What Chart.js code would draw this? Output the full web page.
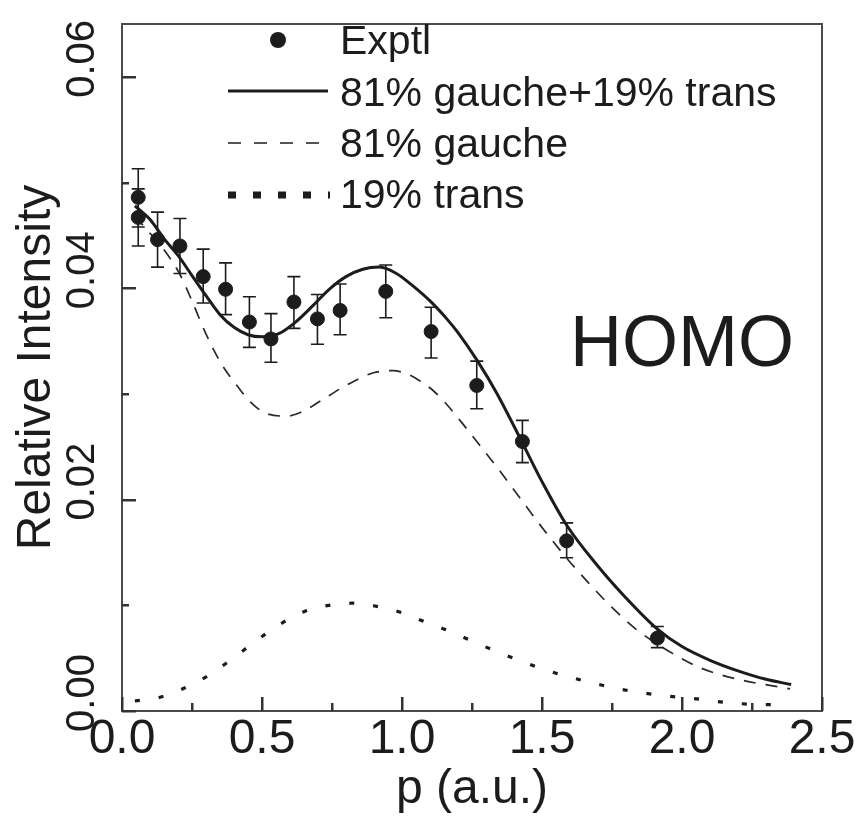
<!DOCTYPE html>
<html>
<head>
<meta charset="utf-8">
<script src="https://cdn.jsdelivr.net/npm/chart.js@4.4.1/dist/chart.umd.min.js"></script>
<style>
    html, body { margin: 0; padding: 0; background: #fff; }
    #wrap { width: 865px; height: 822px; position: relative; }
</style>
</head>
<body>
<div id="wrap"><canvas id="homoChart"></canvas></div>
<script>
// Experimental points (momentum p in a.u., relative intensity, error bar ends)
const exptP  = [0.058, 0.058, 0.127, 0.207, 0.290, 0.370, 0.455, 0.532, 0.614, 0.698, 0.779, 0.942, 1.104, 1.267, 1.430, 1.588, 1.912];
const exptI  = [0.0486, 0.0467, 0.0446, 0.0440, 0.0411, 0.0399, 0.0368, 0.0352, 0.0387, 0.0371, 0.0379, 0.0397, 0.0359, 0.0308, 0.0255, 0.0161, 0.0069];
const exptHi = [0.0513, 0.0494, 0.0472, 0.0466, 0.0437, 0.0424, 0.0392, 0.0376, 0.0411, 0.0394, 0.0404, 0.0422, 0.0382, 0.0331, 0.0275, 0.0178, 0.0080];
const exptLo = [0.0458, 0.0440, 0.0420, 0.0414, 0.0386, 0.0375, 0.0344, 0.0330, 0.0362, 0.0347, 0.0356, 0.0372, 0.0334, 0.0286, 0.0235, 0.0145, 0.0060];

// 81% gauche + 19% trans (solid)
const totalP = [0.046, 0.10, 0.15, 0.20, 0.25, 0.30, 0.35, 0.40, 0.45, 0.50, 0.56, 0.62, 0.68, 0.74, 0.80, 0.86, 0.92, 0.98, 1.04, 1.10, 1.16, 1.20, 1.27, 1.34, 1.42, 1.50, 1.59, 1.70, 1.80, 1.91, 2.00, 2.10, 2.20, 2.30, 2.39];
const totalI = [0.0478, 0.0465, 0.0447, 0.0431, 0.0412, 0.0393, 0.0375, 0.0363, 0.0356, 0.0354, 0.0357, 0.0368, 0.0383, 0.0399, 0.0411, 0.0418, 0.0420, 0.0414, 0.0402, 0.0388, 0.0371, 0.0358, 0.0331, 0.0300, 0.0259, 0.0217, 0.0175, 0.0137, 0.0107, 0.0078, 0.0061, 0.0048, 0.0038, 0.0030, 0.0025];

// 81% gauche (dashed)
const gaucheP = [0.046, 0.10, 0.154, 0.207, 0.25, 0.296, 0.356, 0.416, 0.46, 0.511, 0.588, 0.65, 0.707, 0.80, 0.898, 0.969, 1.017, 1.06, 1.112, 1.16, 1.207, 1.279, 1.344, 1.42, 1.505, 1.587, 1.667, 1.75, 1.833, 1.95, 2.064, 2.20, 2.386];
const gaucheI = [0.0468, 0.0452, 0.0435, 0.0413, 0.0388, 0.0359, 0.0328, 0.0306, 0.0292, 0.0282, 0.0279, 0.0284, 0.0293, 0.0308, 0.0320, 0.0322, 0.0319, 0.0313, 0.0303, 0.0290, 0.0275, 0.0251, 0.0229, 0.0202, 0.0172, 0.0145, 0.0121, 0.0098, 0.0078, 0.0057, 0.0041, 0.0030, 0.0021];

// 19% trans (dotted)
const transP = [0.046, 0.136, 0.217, 0.305, 0.392, 0.477, 0.564, 0.65, 0.739, 0.823, 0.91, 0.999, 1.085, 1.166, 1.26, 1.35, 1.427, 1.511, 1.60, 1.689, 1.773, 1.863, 1.951, 2.035, 2.124, 2.207, 2.296, 2.38];
const transI = [0.00095, 0.0013, 0.0021, 0.0033, 0.0049, 0.0066, 0.0082, 0.0094, 0.0100, 0.0102, 0.0099, 0.0093, 0.0084, 0.0076, 0.0065, 0.0055, 0.0047, 0.0039, 0.0032, 0.0026, 0.0021, 0.0017, 0.0014, 0.0012, 0.0009, 0.0007, 0.0006, 0.0006];

// axis tick positions (inward marks); every other one carries a label
const xTicks = [0, 0.25, 0.5, 0.75, 1.0, 1.25, 1.5, 1.75, 2.0, 2.25, 2.5];
const yTicks = [0, 0.01, 0.02, 0.03, 0.04, 0.05, 0.06];

const legendLabels = ['Exptl', '81% gauche+19% trans', '81% gauche', '19% trans'];
const panelLabel = 'HOMO';

const ink = '#1c1c1c';
const FONT = "'Liberation Sans', Arial, Helvetica, sans-serif";

const toPoints = (xs, ys) => xs.map((x, i) => ({ x: x, y: ys[i] }));

// error bars, inward ticks, frame, legend and the HOMO label
const overlayPlugin = {
    id: 'overlay',
    beforeDatasetsDraw(chart) {
        const ctx = chart.ctx;
        const xs = chart.scales.x, ys = chart.scales.y;
        ctx.save();
        ctx.strokeStyle = ink;
        ctx.lineWidth = 1.6;
        exptP.forEach((p, i) => {
            const px = xs.getPixelForValue(p);
            const top = ys.getPixelForValue(exptHi[i]);
            const bot = ys.getPixelForValue(exptLo[i]);
            ctx.beginPath();
            ctx.moveTo(px, top); ctx.lineTo(px, bot);
            ctx.moveTo(px - 6.5, top); ctx.lineTo(px + 6.5, top);
            ctx.moveTo(px - 6.5, bot); ctx.lineTo(px + 6.5, bot);
            ctx.stroke();
        });
        ctx.restore();
    },
    afterDraw(chart) {
        const ctx = chart.ctx;
        const area = chart.chartArea;
        const xs = chart.scales.x, ys = chart.scales.y;
        ctx.save();
        ctx.setLineDash([]);

        // frame
        ctx.strokeStyle = '#4a4a4a';
        ctx.lineWidth = 2;
        ctx.strokeRect(area.left, area.top, area.right - area.left, area.bottom - area.top);

        // inward tick marks, long where a label sits
        ctx.fillStyle = '#333';
        xTicks.forEach((v, k) => {
            const px = Math.round(xs.getPixelForValue(v));
            const len = k % 2 === 0 ? 14 : 8;
            ctx.fillRect(px - 1, area.bottom - len, 2.5, len);
        });
        yTicks.forEach((v, k) => {
            const py = Math.round(ys.getPixelForValue(v));
            const len = k % 2 === 0 ? 14 : 7;
            ctx.fillRect(area.left, py - 1, len, 2.5);
        });

        // legend
        const lx0 = 228, lx1 = 328, tx = 340;
        ctx.fillStyle = ink;
        ctx.strokeStyle = ink;
        ctx.font = '41px ' + FONT;
        ctx.textBaseline = 'alphabetic';
        ctx.textAlign = 'left';

        ctx.beginPath();
        ctx.arc(278, 40, 8, 0, Math.PI * 2);
        ctx.fill();
        ctx.fillText(legendLabels[0], tx, 54);

        ctx.lineWidth = 3.2;
        ctx.beginPath(); ctx.moveTo(lx0, 91); ctx.lineTo(lx1, 91); ctx.stroke();
        ctx.fillText(legendLabels[1], tx, 106);

        ctx.lineWidth = 1.4;
        ctx.setLineDash([13, 13]);
        ctx.beginPath(); ctx.moveTo(lx0, 143); ctx.lineTo(lx1, 143); ctx.stroke();
        ctx.fillText(legendLabels[2], tx, 157);

        ctx.lineWidth = 7;
        ctx.setLineDash([8, 17]);
        ctx.beginPath(); ctx.moveTo(lx0, 195); ctx.lineTo(lx1 + 2, 195); ctx.stroke();
        ctx.setLineDash([]);
        ctx.fillText(legendLabels[3], tx, 208);

        // panel label
        ctx.font = '72px ' + FONT;
        ctx.fillText(panelLabel, xs.getPixelForValue(1.6), ys.getPixelForValue(0.0326));

        ctx.restore();
    }
};

const ctx = document.getElementById('homoChart').getContext('2d');

new Chart(ctx, {
    type: 'scatter',
    data: {
        datasets: [
            {
                label: legendLabels[0],
                data: toPoints(exptP, exptI),
                showLine: false,
                pointRadius: 7,
                pointBackgroundColor: ink,
                pointBorderColor: ink,
                pointBorderWidth: 1
            },
            {
                label: legendLabels[1],
                data: toPoints(totalP, totalI),
                showLine: true,
                borderColor: ink,
                borderWidth: 3,
                pointRadius: 0,
                cubicInterpolationMode: 'monotone'
            },
            {
                label: legendLabels[2],
                data: toPoints(gaucheP, gaucheI),
                showLine: true,
                borderColor: '#2a2a2a',
                borderWidth: 1.7,
                borderDash: [12, 10],
                pointRadius: 0,
                cubicInterpolationMode: 'monotone'
            },
            {
                label: legendLabels[3],
                data: toPoints(transP, transI),
                showLine: true,
                borderColor: ink,
                borderWidth: 3.2,
                borderDash: [5, 19],
                pointRadius: 0,
                cubicInterpolationMode: 'monotone'
            }
        ]
    },
    options: {
        responsive: true,
        maintainAspectRatio: false,
        animation: false,
        layout: {
            padding: { top: 11, right: 43, left: 0, bottom: 0 }
        },
        plugins: {
            legend: { display: false },
            tooltip: { enabled: false }
        },
        scales: {
            x: {
                type: 'linear',
                min: 0,
                max: 2.5,
                grid: { display: false, drawTicks: false },
                border: { display: false },
                ticks: {
                    stepSize: 0.25,
                    padding: 0,
                    color: ink,
                    font: { family: FONT, size: 48 },
                    maxRotation: 0,
                    callback: (v) => Math.abs(v * 2 - Math.round(v * 2)) < 1e-6 ? v.toFixed(1) : ''
                },
                title: {
                    display: true,
                    text: 'p (a.u.)',
                    color: ink,
                    font: { family: FONT, size: 48 },
                    padding: { top: 0, bottom: 3 }
                },
                afterFit: (scale) => { scale.height = 111; }
            },
            y: {
                type: 'linear',
                min: 0,
                max: 0.065,
                grid: { display: false, drawTicks: false },
                border: { display: false },
                ticks: {
                    stepSize: 0.01,
                    includeBounds: false,
                    padding: 0,
                    minRotation: 90,
                    maxRotation: 90,
                    crossAlign: 'center',
                    labelOffset: -18,
                    color: ink,
                    font: { family: FONT, size: 40 },
                    callback: (v) => Math.round(v * 100) % 2 === 0 ? v.toFixed(2) : ''
                },
                title: {
                    display: true,
                    text: 'Relative Intensity',
                    color: ink,
                    font: { family: FONT, size: 48 },
                    padding: { top: 8, bottom: 0 }
                },
                afterFit: (scale) => { scale.width = 122; }
            }
        }
    },
    plugins: [overlayPlugin]
});
</script>
</body>
</html>
